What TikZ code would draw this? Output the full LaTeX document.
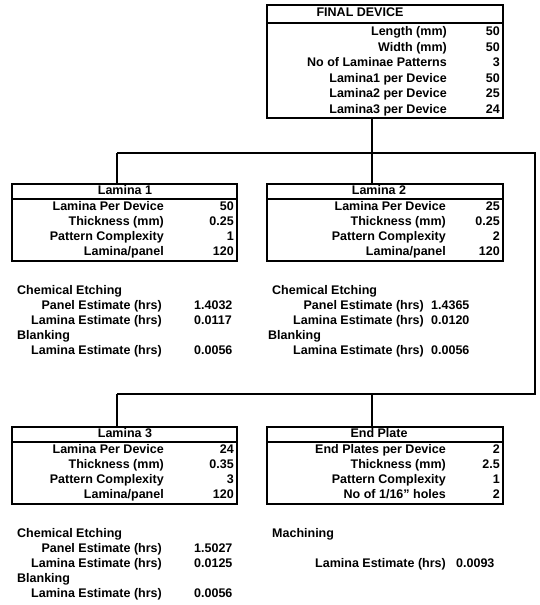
\documentclass[tikz,border=0pt]{standalone}
\usepackage{fontspec}
\setmainfont{Liberation Sans}
\begin{document}
\begin{tikzpicture}[x=1pt,y=-1pt,
  font=\fontsize{12.5}{14}\selectfont\bfseries,
  box/.style={draw, line width=1.4pt, inner sep=0pt, minimum width=#1},
  hline/.style={line width=1.1pt},
  lbl/.style={anchor=mid east, inner sep=0pt},
  lft/.style={anchor=mid west, inner sep=0pt},
  hdr/.style={anchor=mid, inner sep=0pt},
  conn/.style={line width=1.3pt}]
\useasboundingbox (0,0) rectangle (539,605);

% ---------- FINAL DEVICE ----------
\node[box=236pt, minimum height=113pt] (fd) at (385,61.5) {};
\draw[hline] (fd.west |- 0,23) -- (fd.east |- 0,23);
\node[hdr] (fdh) at (360,14) {FINAL DEVICE};
\node[lbl] (fd1) at (447,33) {Length (mm)};
\node[lbl] (fd2) at (447,48.5) {Width (mm)};
\node[lbl] (fd3) at (447,64) {No of Laminae Patterns};
\node[lbl] (fd4) at (447,79.5) {Lamina1 per Device};
\node[lbl] (fd5) at (447,95) {Lamina2 per Device};
\node[lbl] (fd6) at (447,110.5) {Lamina3 per Device};
\node[lbl] (fv1) at (500,33) {50};
\node[lbl] (fv2) at (500,48.5) {50};
\node[lbl] (fv3) at (500,64) {3};
\node[lbl] (fv4) at (500,79.5) {50};
\node[lbl] (fv5) at (500,95) {25};
\node[lbl] (fv6) at (500,110.5) {24};

% ---------- Lamina 1 ----------
\node[box=225pt, minimum height=77pt] (l1) at (124.5,222.5) {};
\draw[hline] (l1.west |- 0,199) -- (l1.east |- 0,199);
\node[hdr] (l1h) at (125,191.5) {Lamina 1};
\node[lbl] (l1a) at (164,207.5) {Lamina Per Device};
\node[lbl] (l1b) at (164,222.5) {Thickness (mm)};
\node[lbl] (l1c) at (164,237.5) {Pattern Complexity};
\node[lbl] (l1d) at (164,252.5) {Lamina/panel};
\node[lbl] (l1va) at (234,207.5) {50};
\node[lbl] (l1vb) at (234,222.5) {0.25};
\node[lbl] (l1vc) at (234,237.5) {1};
\node[lbl] (l1vd) at (234,252.5) {120};

\node[lft] (c1a) at (17,291.5) {Chemical Etching};
\node[lbl] (c1b) at (162,306.5) {Panel Estimate (hrs)};
\node[lbl] (c1c) at (162,321.5) {Lamina Estimate (hrs)};
\node[lft] (c1d) at (17,336.5) {Blanking};
\node[lbl] (c1e) at (162,351.5) {Lamina Estimate (hrs)};
\node[lft] (c1vb) at (194,306.5) {1.4032};
\node[lft] (c1vc) at (194,321.5) {0.0117};
\node[lft] (c1ve) at (194,351.5) {0.0056};

% ---------- Lamina 2 ----------
\node[box=236pt, minimum height=77pt] (l2) at (385,222.5) {};
\draw[hline] (l2.west |- 0,199) -- (l2.east |- 0,199);
\node[hdr] (l2h) at (379,191.5) {Lamina 2};
\node[lbl] (l2a) at (446,207.5) {Lamina Per Device};
\node[lbl] (l2b) at (446,222.5) {Thickness (mm)};
\node[lbl] (l2c) at (446,237.5) {Pattern Complexity};
\node[lbl] (l2d) at (446,252.5) {Lamina/panel};
\node[lbl] (l2va) at (500,207.5) {25};
\node[lbl] (l2vb) at (500,222.5) {0.25};
\node[lbl] (l2vc) at (500,237.5) {2};
\node[lbl] (l2vd) at (500,252.5) {120};

\node[lft] (c2a) at (272,291.5) {Chemical Etching};
\node[lbl] (c2b) at (424,306.5) {Panel Estimate (hrs)};
\node[lbl] (c2c) at (424,321.5) {Lamina Estimate (hrs)};
\node[lft] (c2d) at (268,336.5) {Blanking};
\node[lbl] (c2e) at (424,351.5) {Lamina Estimate (hrs)};
\node[lft] (c2vb) at (431,306.5) {1.4365};
\node[lft] (c2vc) at (431,321.5) {0.0120};
\node[lft] (c2ve) at (431,351.5) {0.0056};

% ---------- Lamina 3 ----------
\node[box=225pt, minimum height=77pt] (l3) at (124.5,465.5) {};
\draw[hline] (l3.west |- 0,442) -- (l3.east |- 0,442);
\node[hdr] (l3h) at (125,434.5) {Lamina 3};
\node[lbl] (l3a) at (164,450.5) {Lamina Per Device};
\node[lbl] (l3b) at (164,465.5) {Thickness (mm)};
\node[lbl] (l3c) at (164,480.5) {Pattern Complexity};
\node[lbl] (l3d) at (164,495.5) {Lamina/panel};
\node[lbl] (l3va) at (234,450.5) {24};
\node[lbl] (l3vb) at (234,465.5) {0.35};
\node[lbl] (l3vc) at (234,480.5) {3};
\node[lbl] (l3vd) at (234,495.5) {120};

\node[lft] (c3a) at (17,534.5) {Chemical Etching};
\node[lbl] (c3b) at (162,549.5) {Panel Estimate (hrs)};
\node[lbl] (c3c) at (162,564.5) {Lamina Estimate (hrs)};
\node[lft] (c3d) at (17,579.5) {Blanking};
\node[lbl] (c3e) at (162,594.5) {Lamina Estimate (hrs)};
\node[lft] (c3vb) at (194,549.5) {1.5027};
\node[lft] (c3vc) at (194,564.5) {0.0125};
\node[lft] (c3ve) at (194,594.5) {0.0056};

% ---------- End Plate ----------
\node[box=236pt, minimum height=77pt] (ep) at (385,465.5) {};
\draw[hline] (ep.west |- 0,442) -- (ep.east |- 0,442);
\node[hdr] (eph) at (379,434.5) {End Plate};
\node[lbl] (epa) at (446,450.5) {End Plates per Device};
\node[lbl] (epb) at (446,465.5) {Thickness (mm)};
\node[lbl] (epc) at (446,480.5) {Pattern Complexity};
\node[lbl] (epd) at (446,495.5) {No of 1/16\symbol{34} holes};
\node[lbl] (epva) at (500,450.5) {2};
\node[lbl] (epvb) at (500,465.5) {2.5};
\node[lbl] (epvc) at (500,480.5) {1};
\node[lbl] (epvd) at (500,495.5) {2};

\node[lft] (m1) at (272,534.5) {Machining};
\node[lbl] (m2) at (446,564.5) {Lamina Estimate (hrs)};
\node[lft] (m3) at (456,564.5) {0.0093};

% ---------- connectors ----------
\coordinate (t0) at (117,153);
\coordinate (t1) at (372,153);
\coordinate (t2) at (535,153);
\coordinate (b0) at (117,394);
\coordinate (b1) at (372,394);
\coordinate (b2) at (535,394);
\draw[conn] (fd.south -| t1) -- (t1);
\draw[conn] (t0) -- (t2) -- (b2) -- (b0);
\draw[conn] (t0) -- (l1.north -| t0);
\draw[conn] (t1) -- (l2.north -| t1);
\draw[conn] (b0) -- (l3.north -| b0);
\draw[conn] (b1) -- (ep.north -| b1);
\end{tikzpicture}
\end{document}
